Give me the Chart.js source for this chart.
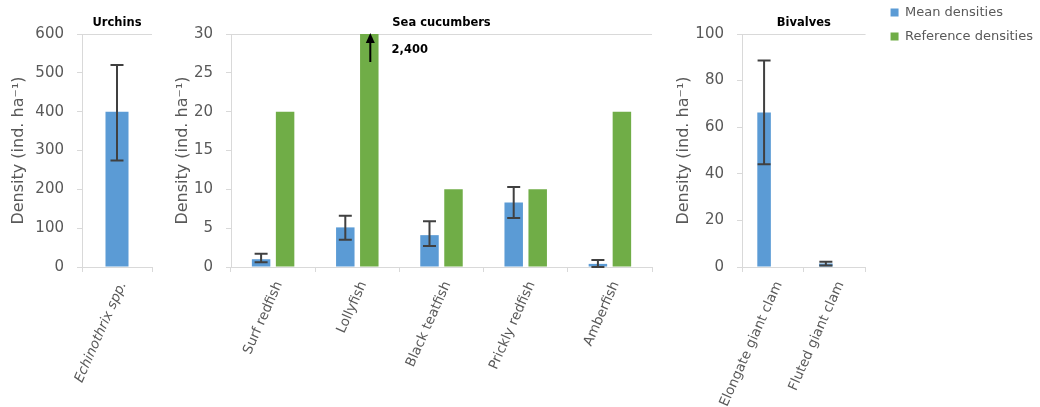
<!DOCTYPE html>
<html>
<head>
<meta charset="utf-8">
<title>Densities</title>
<script src="https://cdn.jsdelivr.net/npm/chart.js@4.4.0/dist/chart.umd.min.js"></script>
<style>
    html, body { margin: 0; padding: 0; background: #fff; }
    body { width: 1040px; height: 407px; position: relative; overflow: hidden; }
    .panel { position: absolute; top: 0; height: 407px; }
</style>
</head>
<body>
<div class="panel" style="left:0;width:165px"><canvas id="urchins-chart"></canvas></div>
<div class="panel" style="left:166px;width:500px"><canvas id="cucumbers-chart"></canvas></div>
<div class="panel" style="left:665px;width:385px"><canvas id="bivalves-chart"></canvas></div>

<script>
// data
var urchinLabels = ['Echinothrix spp.'];
var urchinMean = [400];
var urchinLow = [274];
var urchinHigh = [520];

var cucumberLabels = ['Surf redfish', 'Lollyfish', 'Black teatfish', 'Prickly redfish', 'Amberfish'];
var cucumberMean = [1.0, 5.1, 4.1, 8.3, 0.4];
var cucumberLow = [0.6, 3.5, 2.7, 6.3, 0.0];
var cucumberHigh = [1.7, 6.6, 5.9, 10.3, 0.9];
var cucumberRef = [20, 2400, 10, 10, 20];

var bivalveLabels = ['Elongate giant clam', 'Fluted giant clam'];
var bivalveMean = [66.3, 1.5];
var bivalveLow = [44.1, 0.6];
var bivalveHigh = [88.6, 2.3];
var bivalveRef = [null, null];

var seriesNames = ['Mean densities', 'Reference densities'];
var meanColor = '#5B9BD5';
var refColor = '#70AD47';
var frameColor = '#d9d9d9';
var textColor = '#595959';

Chart.defaults.font.family = '"DejaVu Sans", sans-serif';

// vertical error bars with caps
var errorBarPlugin = {
    id: 'errorBars',
    afterDatasetsDraw: function(chart) {
        var ctx = chart.ctx;
        var yScale = chart.scales.y;
        chart.data.datasets.forEach(function(ds, di) {
            if (!ds.errLow) return;
            var meta = chart.getDatasetMeta(di);
            ctx.save();
            ctx.strokeStyle = '#404040';
            ctx.lineWidth = 2;
            meta.data.forEach(function(bar, i) {
                var lo = ds.errLow[i], hi = ds.errHigh[i];
                if (lo == null || hi == null) return;
                var yLo = yScale.getPixelForValue(lo);
                var yHi = yScale.getPixelForValue(hi);
                var half = 6.5;
                ctx.beginPath();
                ctx.moveTo(bar.x, yLo);
                ctx.lineTo(bar.x, yHi);
                ctx.moveTo(bar.x - half, yLo);
                ctx.lineTo(bar.x + half, yLo);
                ctx.moveTo(bar.x - half, yHi);
                ctx.lineTo(bar.x + half, yHi);
                ctx.stroke();
            });
            ctx.restore();
        });
    }
};

// arrow + value for bars that run off the top of the axis
var offScalePlugin = {
    id: 'offScale',
    afterDatasetsDraw: function(chart) {
        var ctx = chart.ctx;
        var yScale = chart.scales.y;
        var area = chart.chartArea;
        chart.data.datasets.forEach(function(ds, di) {
            var meta = chart.getDatasetMeta(di);
            ds.data.forEach(function(v, i) {
                if (v == null || v <= yScale.max) return;
                var bar = meta.data[i];
                var tip = area.top - 1;
                ctx.save();
                ctx.strokeStyle = '#000';
                ctx.fillStyle = '#000';
                ctx.lineWidth = 2;
                ctx.beginPath();
                ctx.moveTo(bar.x + 1, area.top + 28);
                ctx.lineTo(bar.x + 1, tip + 8);
                ctx.stroke();
                ctx.beginPath();
                ctx.moveTo(bar.x + 1, tip);
                ctx.lineTo(bar.x - 3.5, tip + 10);
                ctx.lineTo(bar.x + 5.5, tip + 10);
                ctx.closePath();
                ctx.fill();
                ctx.font = 'bold 11.5px "DejaVu Sans"';
                ctx.textBaseline = 'middle';
                ctx.textAlign = 'left';
                ctx.fillText(v.toLocaleString('en-US'), bar.x + bar.width / 2 + 13, area.top + 16);
                ctx.restore();
            });
        });
    }
};

function meanSet(data, low, high, barPct) {
    return {
        label: seriesNames[0],
        data: data,
        errLow: low,
        errHigh: high,
        backgroundColor: meanColor,
        categoryPercentage: 0.57,
        barPercentage: barPct
    };
}

function refSet(data) {
    return {
        label: seriesNames[1],
        data: data,
        backgroundColor: refColor,
        categoryPercentage: 0.57,
        barPercentage: 0.77
    };
}

// one panel = one chart; axisWidth fixes where the plot area starts
function makePanel(id, title, labels, datasets, yMax, yStep, o) {
    var nLabels = labels.length;
    var scales = {
        x: {
            offset: true,
            grid: {
                offset: true,
                drawOnChartArea: true,
                color: function(c) { return c.index === nLabels ? frameColor : 'rgba(0,0,0,0)'; },
                tickColor: frameColor,
                tickLength: 5
            },
            border: { color: frameColor, width: 1 },
            ticks: {
                autoSkip: false,
                minRotation: 66,
                maxRotation: 66,
                padding: 7,
                labelOffset: 6,
                color: textColor,
                font: { size: 13.5, style: o.italic ? 'italic' : 'normal' }
            },
            afterFit: function(s) { s.height = 140; }
        },
        y: {
            min: 0,
            max: yMax,
            grid: {
                color: function(c) { return c.tick && c.tick.value === yMax ? frameColor : 'rgba(0,0,0,0)'; },
                tickColor: frameColor,
                tickLength: 5
            },
            border: { color: frameColor, width: 1 },
            ticks: { stepSize: yStep, padding: 13, color: textColor, font: { size: 15 } },
            title: {
                display: true,
                text: 'Density (ind. ha\u207B\u00B9)',
                color: textColor,
                font: { size: 16 },
                padding: { top: o.titlePad, bottom: 0 }
            },
            afterFit: function(s) { s.width = o.axisWidth; }
        }
    };
    if (o.legend) {
        // empty spacer between plot frame and legend
        scales.y2 = {
            position: 'right',
            display: true,
            grid: { display: false, drawTicks: false },
            border: { display: false },
            ticks: { display: false },
            afterFit: function(s) { s.width = o.legendGap; }
        };
    }
    return new Chart(document.getElementById(id), {
        type: 'bar',
        data: { labels: labels, datasets: datasets },
        plugins: [errorBarPlugin, offScalePlugin],
        options: {
            responsive: true,
            maintainAspectRatio: false,
            animation: false,
            layout: { padding: { top: o.padTop || 0, right: o.padRight, bottom: 0, left: 0 } },
            plugins: {
                title: {
                    display: true,
                    text: title,
                    fullSize: false,
                    color: '#000',
                    font: { size: 11.5, weight: 'bold', lineHeight: 1.2 },
                    padding: { top: 16 - (o.padTop || 0), bottom: 4.2 }
                },
                legend: {
                    display: !!o.legend,
                    position: 'right',
                    align: 'start',
                    maxWidth: 300,
                    labels: {
                        boxWidth: 8,
                        boxHeight: 8,
                        padding: 11,
                        color: textColor,
                        font: { size: 13 }
                    }
                },
                tooltip: { enabled: false }
            },
            scales: scales
        }
    });
}

makePanel('urchins-chart', 'Urchins', urchinLabels,
    [meanSet(urchinMean, urchinLow, urchinHigh, 0.577)],
    600, 100, { axisWidth: 82, titlePad: 9, padRight: 13, italic: true });

makePanel('cucumbers-chart', 'Sea cucumbers', cucumberLabels,
    [meanSet(cucumberMean, cucumberLow, cucumberHigh, 0.77), refSet(cucumberRef)],
    30, 5, { axisWidth: 65, titlePad: 7, padRight: 14 });

makePanel('bivalves-chart', 'Bivalves', bivalveLabels,
    [meanSet(bivalveMean, bivalveLow, bivalveHigh, 0.77), refSet(bivalveRef)],
    100, 20, { axisWidth: 77, titlePad: 9, padRight: 7, padTop: -5, legend: true, legendGap: 14 });
</script>
</body>
</html>
